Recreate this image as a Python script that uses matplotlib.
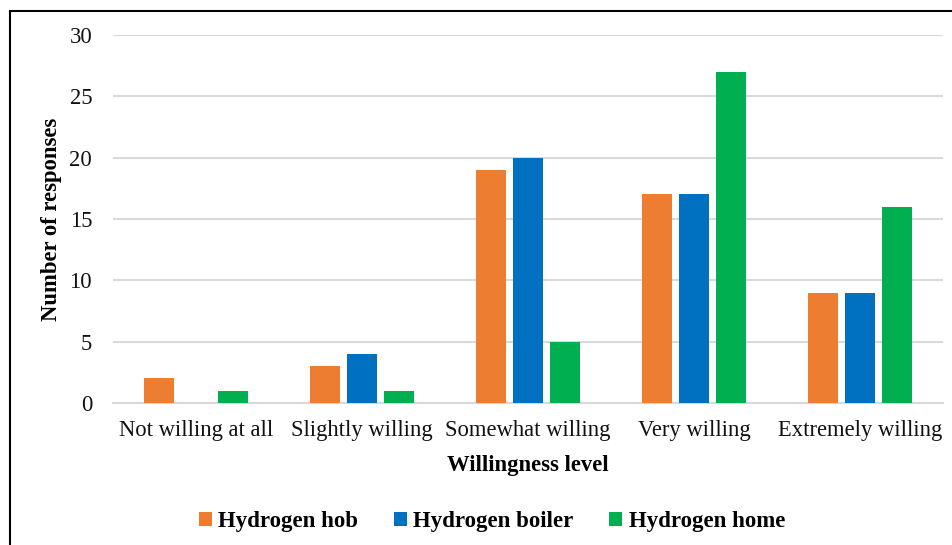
import numpy as np
import matplotlib.pyplot as plt
from matplotlib.patches import Rectangle

categories = ["Not willing at all", "Slightly willing", "Somewhat willing", "Very willing", "Extremely willing"]
hob = [2, 3, 19, 17, 9]
boiler = [0, 4, 20, 17, 9]
home = [1, 1, 5, 27, 16]
series = ["Hydrogen hob", "Hydrogen boiler", "Hydrogen home"]
colors = ["#ED7D31", "#0070C0", "#00B050"]

plt.rcParams['font.family'] = ['Liberation Serif', 'DejaVu Serif']

fig = plt.figure(figsize=(9.52, 5.45), dpi=100)
ax = fig.add_axes([0.1187, 0.2606, 0.8718, 0.6752])

x = np.arange(len(categories))
w = 0.18
step = 0.222
for i, (vals, name, c) in enumerate(zip([hob, boiler, home], series, colors)):
    ax.bar(x + (i - 1) * step, vals, w, color=c, label=name, zorder=3)

ax.set_xlim(-0.5, 4.5)
ax.set_ylim(0, 30)
ax.set_yticks(range(0, 31, 5))
ax.set_xticks(x)
ax.set_xticklabels(categories)
ax.tick_params(length=0, labelsize=16.3, colors='#111111')
ax.tick_params(axis='y', pad=15)
ax.tick_params(axis='x', pad=12)
ax.grid(axis='y', color='#D9D9D9', linewidth=1.5, zorder=0)
for s in ['top', 'right', 'left']:
    ax.spines[s].set_visible(False)
ax.spines['bottom'].set_color('#D9D9D9')
ax.spines['bottom'].set_linewidth(1.5)

ax.set_xlabel("Willingness level", fontsize=16.3, fontweight='bold', labelpad=10)
ax.set_ylabel("Number of responses", fontsize=16.3, fontweight='bold', labelpad=5)

ax.legend(loc='center', bbox_to_anchor=(0.5 + 16 / 952, (545 - 522) / 545), bbox_transform=fig.transFigure,
          ncol=3, frameon=False, prop={'size': 16.5, 'weight': 'bold'},
          handlelength=0.57, handleheight=0.57, handletextpad=0.28, columnspacing=1.55)

fig.patches.append(Rectangle((10 / 952, -0.1), 1.2, 1 - 11 / 545 + 0.1, transform=fig.transFigure,
                             fill=False, edgecolor='black', linewidth=1.5))

fig.savefig("out.png", dpi=100)
